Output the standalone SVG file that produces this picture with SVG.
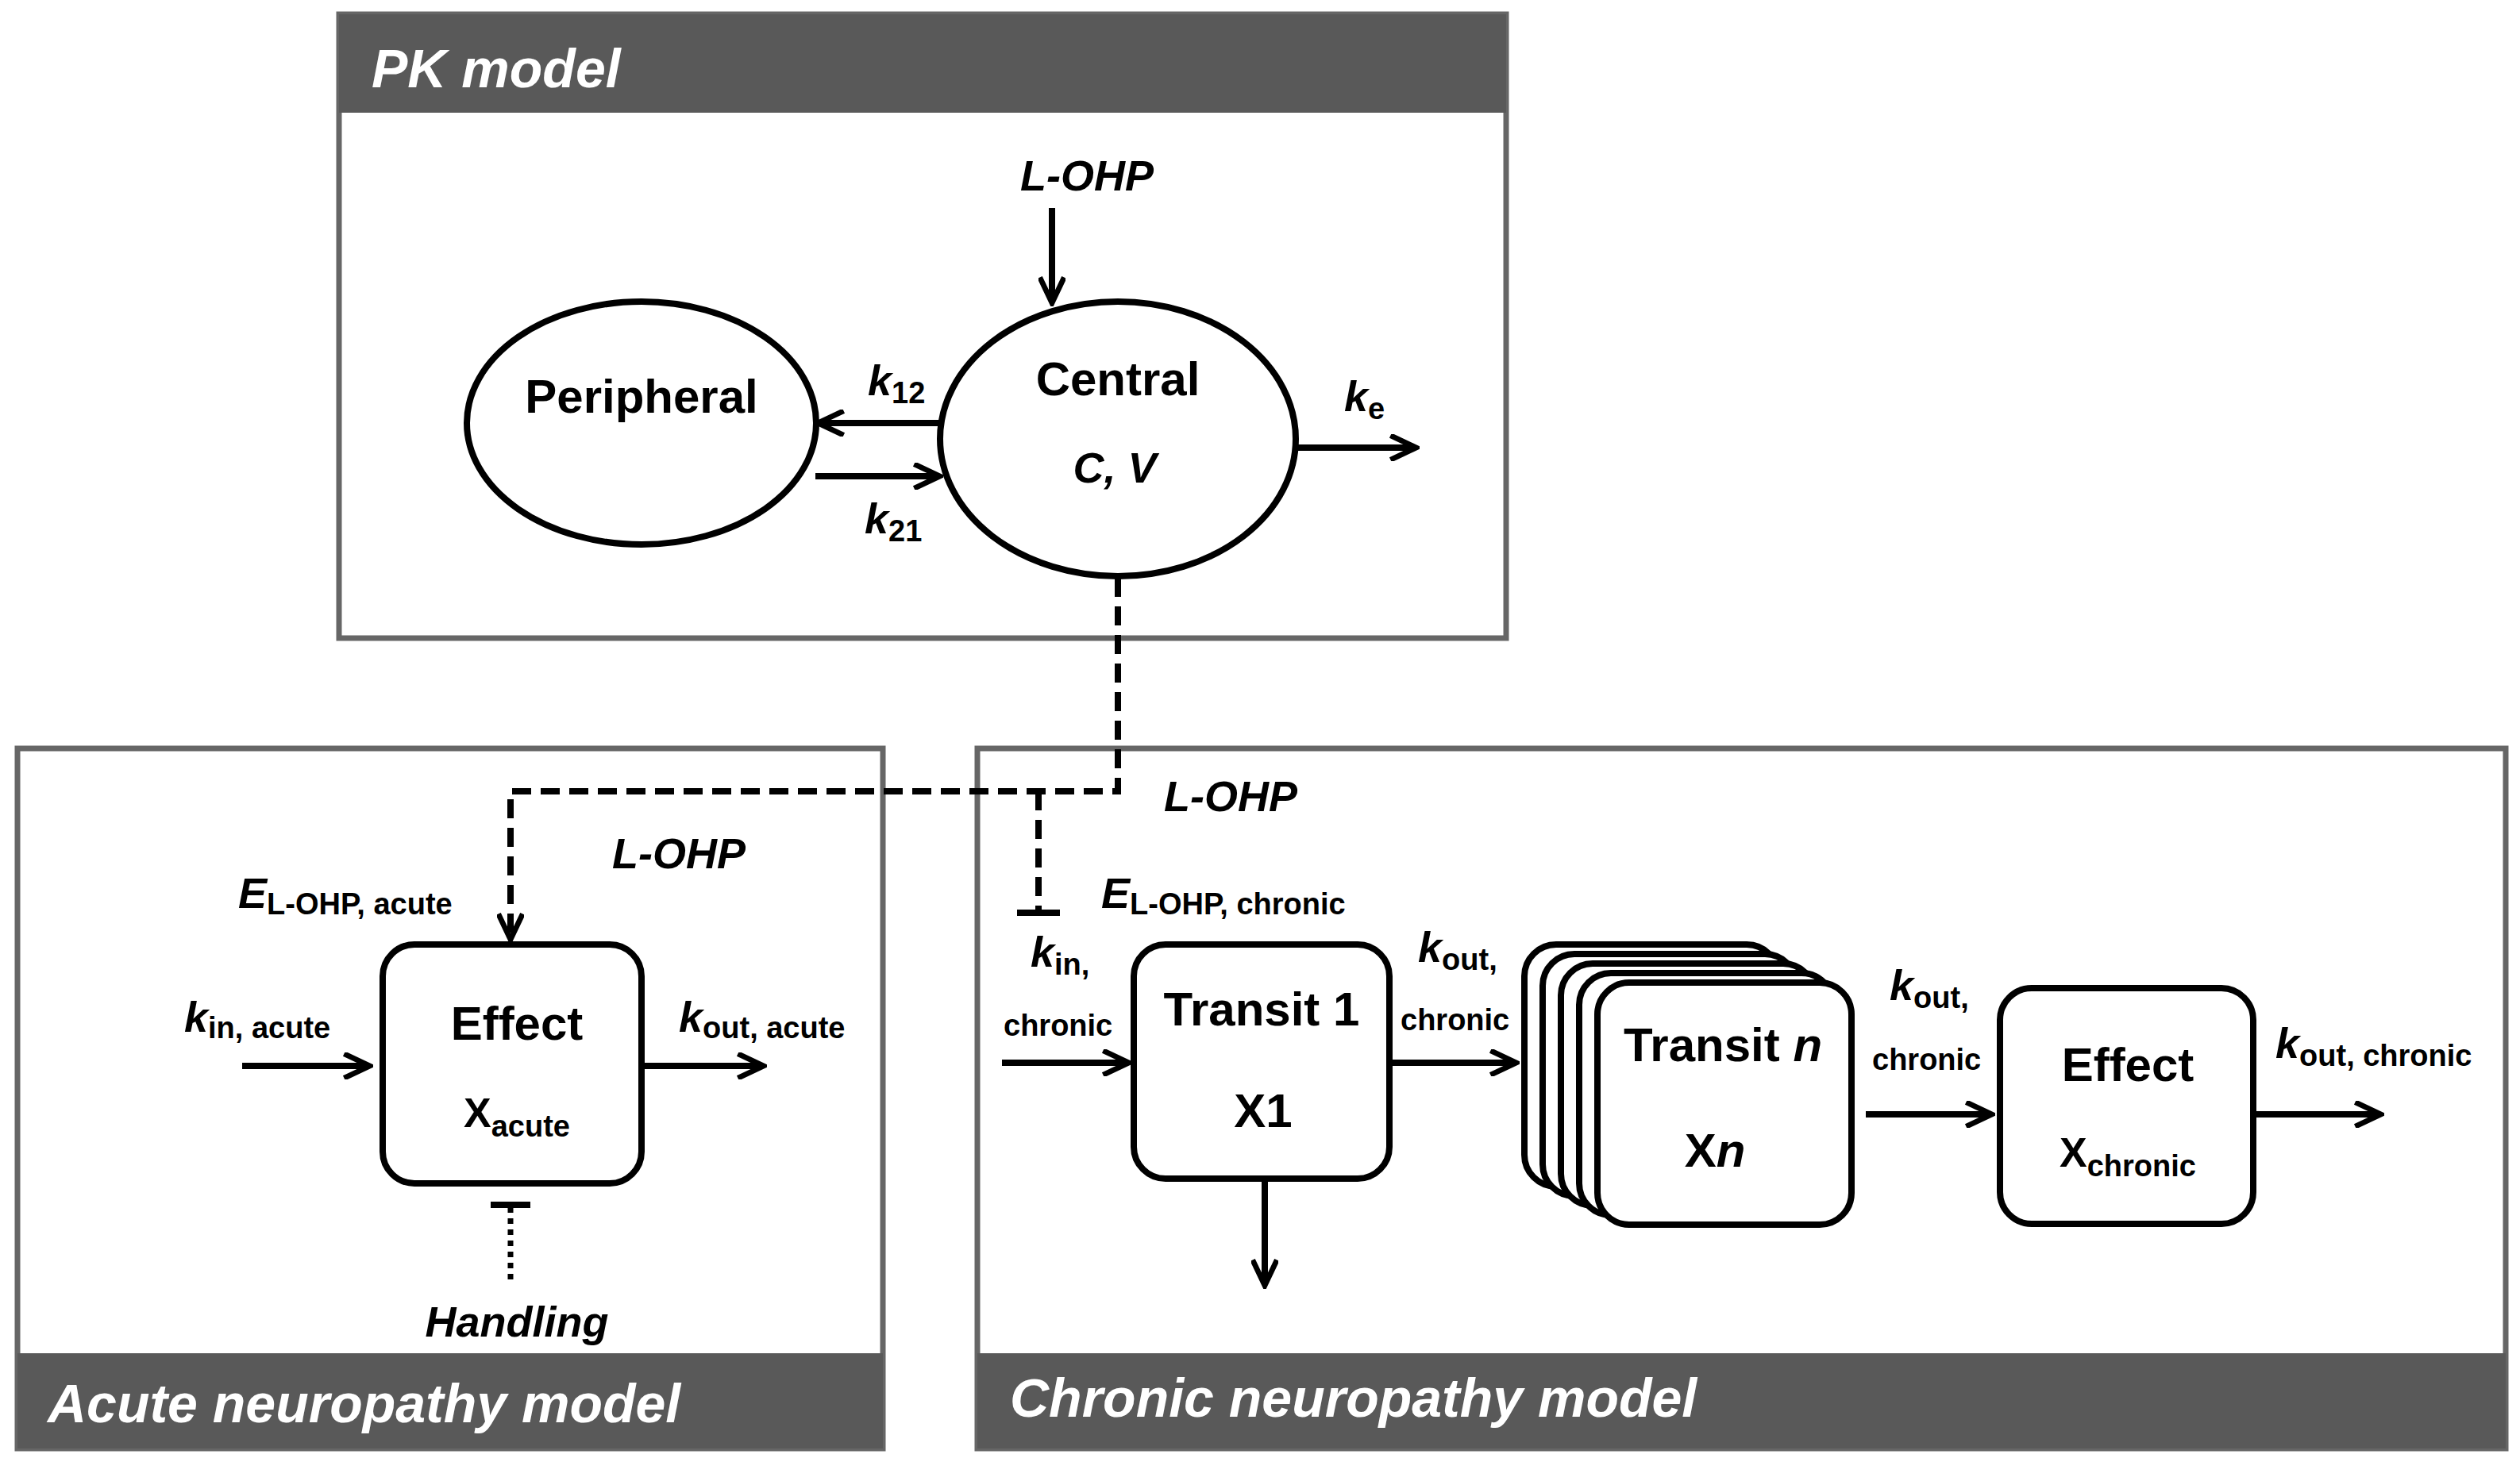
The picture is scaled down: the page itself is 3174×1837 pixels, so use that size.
<svg xmlns="http://www.w3.org/2000/svg" width="3174" height="1837" viewBox="0 0 3174 1837">
<style>
.t{font-family:"Liberation Sans",Arial,sans-serif;font-weight:bold;fill:#000}
.big{font-size:60px}
.lab{font-size:54px;font-style:italic}
.sub{font-size:38px;font-style:normal}
.hd{font-family:"Liberation Sans",Arial,sans-serif;font-weight:bold;font-style:italic;font-size:68px;fill:#fff}
.frame{fill:#fff;stroke:#666;stroke-width:7}
.band{fill:#595959}
.node{fill:#fff;stroke:#000;stroke-width:8}
.ln{stroke:#000;stroke-width:8;fill:none}
</style>
<defs>
<marker id="a2" viewBox="0 0 10 10" refX="9" refY="5" markerWidth="40" markerHeight="34" markerUnits="userSpaceOnUse" orient="auto">
<path d="M0,0.5 L9.5,5 L0,9.5" fill="none" stroke="#000" stroke-width="2"/>
</marker>
</defs>
<rect width="3174" height="1837" fill="#fff"/>
<g id="pk-frame"><rect class="frame" x="427" y="18" width="1470" height="786"/><rect class="band" x="427" y="18" width="1470" height="124"/><text class="hd" x="468" y="110">PK model</text></g>
<g id="acute-frame"><rect class="frame" x="22" y="943" width="1090" height="882"/><rect class="band" x="22" y="1705" width="1090" height="120"/><text class="hd" x="60" y="1792">Acute neuropathy model</text></g>
<g id="chronic-frame"><rect class="frame" x="1231" y="943" width="1925" height="882"/><rect class="band" x="1231" y="1705" width="1925" height="120"/><text class="hd" x="1272" y="1785">Chronic neuropathy model</text></g>
<g id="peripheral"><ellipse class="node" cx="808" cy="533" rx="220" ry="153"/><text class="t big" x="808" y="520" text-anchor="middle">Peripheral</text></g>
<g id="central"><ellipse class="node" cx="1408" cy="553" rx="224" ry="173"/><text class="t big" x="1408" y="498" text-anchor="middle">Central</text><text class="t lab" x="1404" y="608" text-anchor="middle">C, V</text></g>
<g id="acute-effect"><rect class="node" x="482" y="1190" width="326" height="301" rx="40"/><text class="t big" x="651" y="1310" text-anchor="middle">Effect</text><text class="t" x="651" y="1420" text-anchor="middle" font-size="52">X<tspan class="sub" dy="12">acute</tspan></text></g>
<g id="transit1"><rect class="node" x="1428" y="1190" width="322" height="295" rx="40"/><text class="t big" x="1589" y="1292" text-anchor="middle">Transit 1</text><text class="t big" x="1591" y="1420" text-anchor="middle">X1</text></g>
<g id="transitn">
<rect class="node" x="1920" y="1190" width="320" height="305" rx="40"/>
<rect class="node" x="1943" y="1202" width="320" height="305" rx="40"/>
<rect class="node" x="1966" y="1214" width="320" height="305" rx="40"/>
<rect class="node" x="1989" y="1226" width="320" height="305" rx="40"/>
<rect class="node" x="2012" y="1238" width="320" height="305" rx="40"/>
<text class="t big" x="2170" y="1337" text-anchor="middle">Transit <tspan font-style="italic">n</tspan></text><text class="t big" x="2160" y="1470" text-anchor="middle">X<tspan font-style="italic">n</tspan></text></g>
<g id="chronic-effect"><rect class="node" x="2519" y="1245" width="319" height="297" rx="40"/><text class="t big" x="2680" y="1362" text-anchor="middle">Effect</text><text class="t" x="2680" y="1470" text-anchor="middle" font-size="52">X<tspan class="sub" dy="12">chronic</tspan></text></g>
<g id="labels">
<text class="t lab" x="1369" y="240" text-anchor="middle" font-size="70">L-OHP</text>
<text class="t lab" x="1093" y="498">k<tspan class="sub" dy="10">12</tspan></text>
<text class="t lab" x="1089" y="672">k<tspan class="sub" dy="10">21</tspan></text>
<text class="t lab" x="1693" y="518">k<tspan class="sub" dy="10">e</tspan></text>
<text class="t lab" x="855" y="1094" text-anchor="middle" font-size="70">L-OHP</text>
<text class="t lab" x="300" y="1144">E<tspan class="sub" dy="8">L-OHP, acute</tspan></text>
<text class="t lab" x="232" y="1300">k<tspan class="sub" dy="8">in, acute</tspan></text>
<text class="t lab" x="855" y="1300">k<tspan class="sub" dy="8">out, acute</tspan></text>
<text class="t lab" x="651" y="1684" text-anchor="middle" font-size="70">Handling</text>
<text class="t lab" x="1550" y="1022" text-anchor="middle" font-size="70">L-OHP</text>
<text class="t lab" x="1387" y="1144">E<tspan class="sub" dy="8">L-OHP, chronic</tspan></text>
<text class="t lab" x="1298" y="1218">k<tspan class="sub" dy="10">in,</tspan></text>
<text class="t sub" x="1264" y="1305">chronic</text>
<text class="t lab" x="1786" y="1212">k<tspan class="sub" dy="10">out,</tspan></text>
<text class="t sub" x="1764" y="1298">chronic</text>
<text class="t lab" x="2380" y="1260">k<tspan class="sub" dy="10">out,</tspan></text>
<text class="t sub" x="2358" y="1348">chronic</text>
<text class="t lab" x="2866" y="1333">k<tspan class="sub" dy="10">out, chronic</tspan></text>
</g>
<g id="connectors">
<line class="ln" x1="1325" y1="262" x2="1325" y2="380" marker-end="url(#a2)"/>
<line class="ln" x1="1186" y1="533" x2="1032" y2="533" marker-end="url(#a2)"/>
<line class="ln" x1="1027" y1="600" x2="1182" y2="600" marker-end="url(#a2)"/>
<line class="ln" x1="1632" y1="564" x2="1782" y2="564" marker-end="url(#a2)"/>
<path d="M1408,728 V997 H643 V1182" fill="none" stroke="#000" stroke-width="8" stroke-dasharray="24,12" marker-end="url(#a2)"/>
<path d="M1308,997 V1150" fill="none" stroke="#000" stroke-width="8" stroke-dasharray="24,12"/>
<line class="ln" x1="1281" y1="1150" x2="1335" y2="1150"/>
<line class="ln" x1="305" y1="1343" x2="464" y2="1343" marker-end="url(#a2)"/>
<line class="ln" x1="810" y1="1343" x2="960" y2="1343" marker-end="url(#a2)"/>
<line x1="643" y1="1612" x2="643" y2="1520" stroke="#000" stroke-width="7" stroke-dasharray="7,7"/>
<line class="ln" x1="618" y1="1518" x2="668" y2="1518"/>
<line class="ln" x1="1262" y1="1339" x2="1420" y2="1339" marker-end="url(#a2)"/>
<line class="ln" x1="1593" y1="1487" x2="1593" y2="1618" marker-end="url(#a2)"/>
<line class="ln" x1="1754" y1="1339" x2="1908" y2="1339" marker-end="url(#a2)"/>
<line class="ln" x1="2350" y1="1404" x2="2507" y2="1404" marker-end="url(#a2)"/>
<line class="ln" x1="2842" y1="1404" x2="2997" y2="1404" marker-end="url(#a2)"/>
</g>
</svg>
